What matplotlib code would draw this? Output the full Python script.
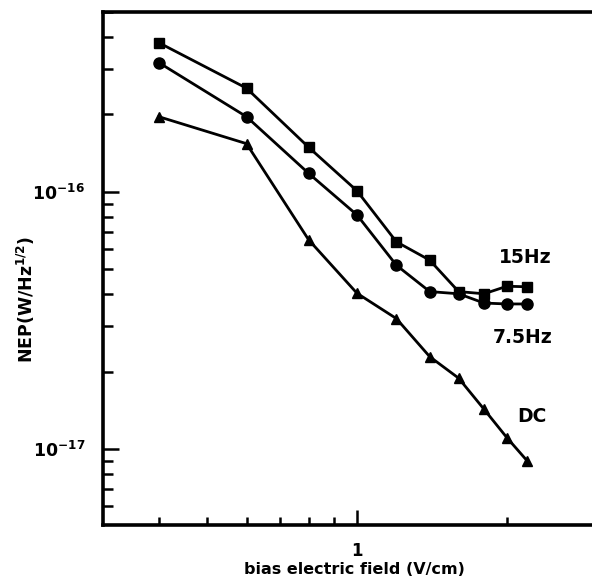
import matplotlib
matplotlib.use("Agg")
import matplotlib.pyplot as plt
from matplotlib.ticker import LogLocator, NullFormatter, FixedLocator, FixedFormatter

plt.rcParams['font.family'] = ['DejaVu Sans']
plt.rcParams['font.weight'] = 'bold'
plt.rcParams['mathtext.default'] = 'bf'

field = [0.4, 0.6, 0.8, 1.0, 1.2, 1.4, 1.6, 1.8, 2.0, 2.2]
nep_15hz = [3.80e-16, 2.53e-16, 1.49e-16, 1.01e-16, 6.4e-17, 5.43e-17, 4.10e-17, 4.02e-17, 4.30e-17, 4.28e-17]
nep_7hz = [3.18e-16, 1.96e-16, 1.18e-16, 8.14e-17, 5.19e-17, 4.10e-17, 4.02e-17, 3.70e-17, 3.67e-17, 3.67e-17]
nep_dc = [1.96e-16, 1.54e-16, 6.51e-17, 4.04e-17, 3.22e-17, 2.29e-17, 1.89e-17, 1.43e-17, 1.11e-17, 8.99e-18]

fig = plt.figure(figsize=(5.92, 5.81), dpi=100)
ax = fig.add_axes([0.174, 0.0964, 0.826, 0.8829])

ax.plot(field, nep_15hz, 'k-s', lw=2.0, ms=7.5)
ax.plot(field, nep_7hz, 'k-o', lw=2.0, ms=8)
ax.plot(field, nep_dc, 'k-^', lw=2.0, ms=7.5)

ax.set_xscale('log')
ax.set_yscale('log')
ax.set_xlim(0.309, 2.965)
ax.set_ylim(5.08e-18, 5.0e-16)

# x ticks: only "1" labelled
ax.xaxis.set_major_locator(FixedLocator([1.0]))
ax.xaxis.set_major_formatter(FixedFormatter(['1']))
ax.xaxis.set_minor_locator(FixedLocator([0.4, 0.5, 0.6, 0.7, 0.8, 0.9, 2.0]))
ax.xaxis.set_minor_formatter(NullFormatter())

ax.yaxis.set_major_locator(FixedLocator([1e-17, 1e-16]))
ax.yaxis.set_major_formatter(FixedFormatter([r'$10^{-17}$', r'$10^{-16}$']))
ax.yaxis.set_minor_locator(LogLocator(base=10, subs=range(2, 10)))
ax.yaxis.set_minor_formatter(NullFormatter())

ax.tick_params(axis='both', which='both', direction='in', width=1.8, colors='black')
ax.tick_params(axis='y', which='major', length=11.5, labelsize=12.5, pad=13)
ax.tick_params(axis='y', which='minor', length=7)
ax.tick_params(axis='x', which='major', length=11, labelsize=12, pad=12)
ax.tick_params(axis='x', which='minor', length=6)
ax.tick_params(top=False, right=False, which='both')

for side in ['left', 'bottom', 'top']:
    ax.spines[side].set_linewidth(2.6)
ax.spines['right'].set_visible(False)

ax.set_xlabel('bias electric field (V/cm)', fontsize=11.5, fontweight='bold')
ax.xaxis.set_label_coords(0.515, -0.073)
ax.set_ylabel(r'NEP(W/Hz$^{1/2}$)', fontsize=12.5, fontweight='bold')
ax.yaxis.set_label_coords(-0.135, 0.44)

ax.text(2.18, 5.55e-17, '15Hz', fontsize=13.5, fontweight='bold', ha='center', va='center')
ax.text(2.15, 2.73e-17, '7.5Hz', fontsize=13.5, fontweight='bold', ha='center', va='center')
ax.text(2.25, 1.34e-17, 'DC', fontsize=13.5, fontweight='bold', ha='center', va='center')

fig.savefig('out.png', dpi=100)
